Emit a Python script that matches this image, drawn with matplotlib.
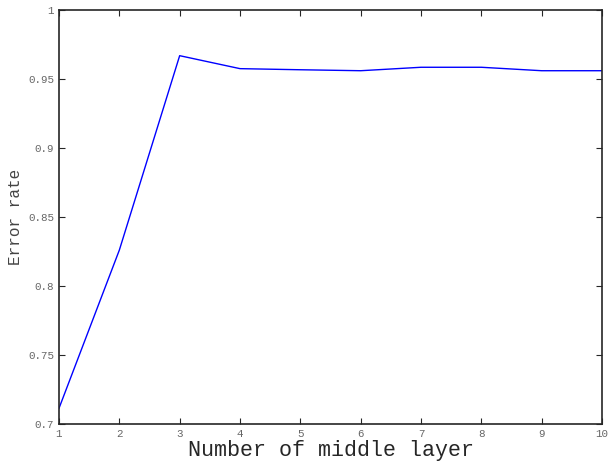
import matplotlib
matplotlib.use('Agg')
import matplotlib.pyplot as plt

layers = [1, 2, 3, 4, 5, 6, 7, 8, 9, 10]
error_rate = [0.7114, 0.826, 0.9669, 0.9575, 0.9567, 0.956, 0.9585, 0.9585, 0.956, 0.956]

plt.rcParams['font.family'] = ['Liberation Mono', 'DejaVu Sans Mono']

fig = plt.figure(figsize=(6.12, 4.61), dpi=100)
ax = fig.add_axes([59 / 612, 37 / 461, 543 / 612, 414 / 461])

ax.plot(layers, error_rate, color='#0000ff', linewidth=1.0)

ax.set_xlim(1, 10)
ax.set_ylim(0.7, 1.0)
ax.set_xticks(range(1, 11))
ax.set_yticks([0.7, 0.75, 0.8, 0.85, 0.9, 0.95, 1.0])
ax.set_yticklabels(['0.7', '0.75', '0.8', '0.85', '0.9', '0.95', '1'])

for s in ax.spines.values():
    s.set_color('#262626')
    s.set_linewidth(1.2)
ax.tick_params(direction='in', top=True, right=True, labelsize=7.8,
               labelcolor='#666666', color='#262626', length=4, width=0.8)

ax.set_xlabel('Number of middle layer', fontsize=15.6, color='#262626', labelpad=1)
ax.set_ylabel('Error rate', fontsize=11.5, color='#444444', labelpad=4)

fig.savefig('out.png', dpi=100)
